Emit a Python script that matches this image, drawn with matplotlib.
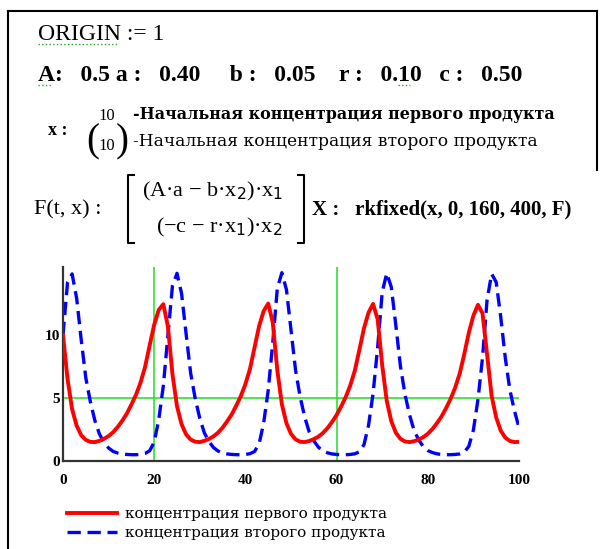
import numpy as np
import matplotlib
matplotlib.use('Agg')
import matplotlib.pyplot as plt
from matplotlib.lines import Line2D

W, H = 606, 549

# time grid and the two concentrations
t = np.arange(0, 101)
x1 = [10.0, 6.5, 4.1, 2.8, 2.04, 1.67, 1.52, 1.5, 1.6, 1.77,
      1.98, 2.29, 2.7, 3.2, 3.77, 4.48, 5.25, 6.22, 7.47, 9.17,
      10.82, 12.0, 12.45, 10.7, 6.9, 4.35, 2.92, 2.11, 1.7, 1.53,
      1.5, 1.6, 1.75, 1.95, 2.25, 2.65, 3.15, 3.7, 4.4, 5.15,
      6.1, 7.3, 9.0, 10.7, 11.9, 12.5, 11.0, 7.2, 4.5, 3.0,
      2.15, 1.72, 1.53, 1.5, 1.59, 1.74, 1.93, 2.22, 2.61, 3.1,
      3.65, 4.33, 5.08, 6.0, 7.18, 8.83, 10.53, 11.78, 12.47, 11.25,
      7.6, 4.77, 3.15, 2.24, 1.76, 1.55, 1.5, 1.57, 1.7, 1.89,
      2.16, 2.53, 3.0, 3.53, 4.19, 4.93, 5.82, 6.94, 8.49, 10.19,
      11.54, 12.4, 11.72, 8.46, 5.16, 3.45, 2.4, 1.85, 1.59, 1.5, 1.52]
x2 = [10.0, 14.2, 14.85, 12.9, 9.6, 6.6, 4.7, 3.2, 2.13, 1.48,
      1.03, 0.76, 0.63, 0.55, 0.52, 0.5, 0.5, 0.53, 0.6, 0.81,
      1.5, 3.28, 5.96, 9.94, 13.9, 14.9, 13.3, 10.08, 6.96, 4.94,
      3.38, 2.23, 1.55, 1.07, 0.79, 0.64, 0.56, 0.52, 0.5, 0.5,
      0.52, 0.58, 0.75, 1.35, 3.0, 5.6, 9.4, 13.7, 14.95, 13.6,
      10.4, 7.2, 5.1, 3.5, 2.3, 1.6, 1.1, 0.8, 0.65, 0.56,
      0.52, 0.5, 0.5, 0.52, 0.57, 0.73, 1.29, 2.82, 5.36, 9.0,
      13.4, 14.9, 13.8, 10.74, 7.52, 5.28, 3.66, 2.42, 1.67, 1.15,
      0.83, 0.67, 0.57, 0.52, 0.5, 0.5, 0.52, 0.56, 0.7, 1.17,
      2.46, 4.88, 8.2, 12.8, 14.85, 14.2, 11.42, 8.16, 5.64, 3.98, 2.66]
x_ticks = [0, 20, 40, 60, 80, 100]
y_ticks = [0, 5, 10]
x_markers = [20, 60]
y_markers = [5]
labels = ['концентрация первого продукта', 'концентрация второго продукта']

plt.rcParams['font.family'] = ['Liberation Serif', 'DejaVu Serif']
wide = ['DejaVu Serif']

fig = plt.figure(figsize=(W / 100, H / 100), dpi=100)


def fx(px):
    return px / W


def fy(py):
    return 1 - py / H


def line(xs, ys, **kw):
    fig.add_artist(Line2D([fx(v) for v in xs], [fy(v) for v in ys], **kw))


# worksheet frame
line([8, 8], [11, 549], color='black', lw=1.5)
line([8, 597], [11, 11], color='black', lw=1.5)
line([597, 597], [11, 170], color='black', lw=1.5)

# worksheet text
fig.text(fx(38), fy(40), 'ORIGIN := 1', fontsize=17, va='baseline')
line([38, 118], [44, 44], color='#22aa22', lw=1, ls=':')
fig.text(fx(38), fy(81), 'A:   0.5 a :   0.40     b :   0.05    r :   0.10   c :   0.50',
         fontsize=17, va='baseline', fontweight='bold')
line([38, 52], [85, 85], color='#22aa22', lw=1, ls=':')
line([398, 410], [85, 85], color='#22aa22', lw=1, ls=':')

fig.text(fx(48), fy(135), 'x :', fontsize=13, va='baseline', fontweight='bold')
fig.text(fx(98), fy(120), '10', fontsize=12, va='baseline')
fig.text(fx(98), fy(150), '10', fontsize=12, va='baseline')
fig.text(fx(86), fy(151), '(', fontsize=28, va='baseline', fontweight='light')
fig.text(fx(116), fy(151), ')', fontsize=28, va='baseline', fontweight='light')
fig.text(fx(133), fy(119), '-Начальная концентрация первого продукта',
         fontsize=11.5, va='baseline', fontweight='bold', family=wide)
fig.text(fx(133), fy(146), '-Начальная концентрация второго продукта',
         fontsize=12.3, va='baseline', family=wide)

fig.text(fx(34), fy(214), 'F(t, x) :', fontsize=16, va='baseline')
line([134, 128, 128, 134], [175, 175, 243, 243], color='black', lw=1.5)
line([298, 304, 304, 298], [175, 175, 243, 243], color='black', lw=1.5)
fig.text(fx(142), fy(196), '(A·a − b·x$_2$)·x$_1$', fontsize=16, va='baseline')
fig.text(fx(156), fy(232), '(−c − r·x$_1$)·x$_2$', fontsize=16, va='baseline')
fig.text(fx(312), fy(214), 'X :   rkfixed(x, 0, 160, 400, F)', fontsize=15,
         va='baseline', fontweight='bold')

# plot
ax = fig.add_axes([fx(63), fy(461), (519 - 63) / W, (461 - 267) / H])
for v in x_markers:
    ax.axvline(v, color='#22dd22', lw=1.1, zorder=1)
for v in y_markers:
    ax.axhline(v, color='#22dd22', lw=1.1, zorder=1)
ax.plot(t, x1, color='#ff0000', lw=2.8, label=labels[0], zorder=3)
ax.plot(t, x2, color='#0000ff', lw=2.4, ls=(0, (4, 2)), label=labels[1], zorder=2)
ax.set_xlim(0, 100)
ax.set_ylim(0, 15.4)
ax.set_xticks(x_ticks)
ax.set_yticks(y_ticks)
ax.tick_params(length=0, labelsize=11)
ax.tick_params(axis='x', pad=9)
ax.tick_params(axis='y', pad=2)
for lab in ax.get_xticklabels() + ax.get_yticklabels():
    lab.set_fontweight('bold')
for s in ['top', 'right']:
    ax.spines[s].set_visible(False)
for s in ['left', 'bottom']:
    ax.spines[s].set_color('#333333')
    ax.spines[s].set_linewidth(1.6)
ax.patch.set_alpha(0)

fig.legend(loc='upper left', bbox_to_anchor=(fx(67), fy(507)), frameon=False,
           prop={'family': wide, 'size': 11}, handlelength=3.3, handletextpad=0.5,
           labelspacing=0.35, borderaxespad=0, borderpad=0)

fig.savefig('out.png', dpi=100)
